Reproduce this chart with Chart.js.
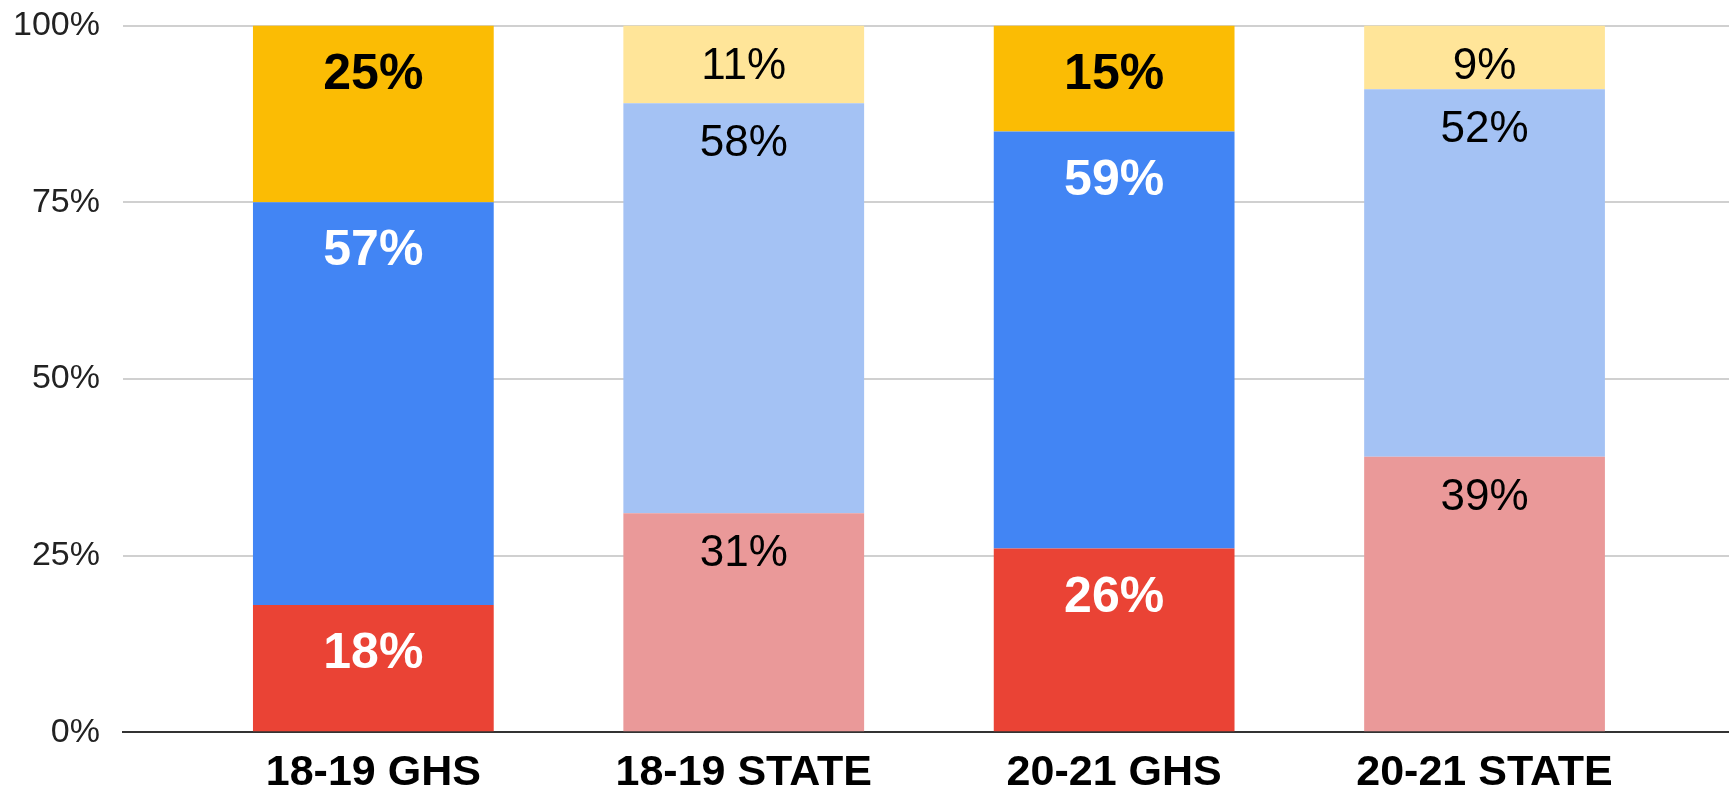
<!DOCTYPE html>
<html>
<head>
<meta charset="utf-8">
<script src="https://cdn.jsdelivr.net/npm/chart.js@4/dist/chart.umd.min.js"></script>
<style>
  html, body { margin: 0; padding: 0; background: #fff; }
  #wrap { width: 1729px; height: 788px; }
</style>
</head>
<body>
<div id="wrap"><canvas id="barChart" width="1729" height="788"></canvas></div>
<script>
// chart values
const categories = ['18-19 GHS', '18-19 STATE', '20-21 GHS', '20-21 STATE'];
const bottomValues = [18, 31, 26, 39];
const middleValues = [57, 58, 59, 52];
const topValues = [25, 11, 15, 9];
const yTicks = [0, 25, 50, 75, 100];

// colours per bar (GHS strong, STATE light)
const bottomColors = ['#ea4335', '#ea9999', '#ea4335', '#ea9999'];
const middleColors = ['#4285f4', '#a4c2f4', '#4285f4', '#a4c2f4'];
const topColors = ['#fbbc04', '#ffe599', '#fbbc04', '#ffe599'];
const bottomText = ['#ffffff', '#000000', '#ffffff', '#000000'];
const middleText = ['#ffffff', '#000000', '#ffffff', '#000000'];
const topText = ['#000000', '#000000', '#000000', '#000000'];
const boldLabel = [true, false, true, false];

const FONT = '"Liberation Sans", Arial, sans-serif';

function points(values) {
    return values.map((v, i) => ({ x: i, y: v }));
}

// percentage labels inside each segment, near its top
const segmentLabels = {
    id: 'segmentLabels',
    afterDatasetsDraw(chart) {
        const ctx = chart.ctx;
        ctx.save();
        ctx.textAlign = 'center';
        ctx.textBaseline = 'alphabetic';
        chart.data.datasets.forEach((ds, di) => {
            const meta = chart.getDatasetMeta(di);
            meta.data.forEach((bar, i) => {
                const bold = boldLabel[i];
                ctx.font = (bold ? 'bold 50px ' : '44px ') + FONT;
                ctx.fillStyle = ds.textColors[i];
                ctx.fillText(ds.data[i].y + '%', bar.x, bar.y + (bold ? 63 : 53));
            });
        });
        ctx.restore();
    }
};

const ctx = document.getElementById('barChart').getContext('2d');
const chart = new Chart(ctx, {
    type: 'bar',
    data: {
        datasets: [
            { label: 'bottom', data: points(bottomValues), backgroundColor: bottomColors, textColors: bottomText },
            { label: 'middle', data: points(middleValues), backgroundColor: middleColors, textColors: middleText },
            { label: 'top', data: points(topValues), backgroundColor: topColors, textColors: topText }
        ]
    },
    options: {
        responsive: false,
        animation: false,
        layout: { padding: { left: -10, right: 0, top: 0, bottom: -25 } },
        categoryPercentage: 1,
        barPercentage: 0.65,
        plugins: {
            legend: { display: false },
            tooltip: { enabled: false }
        },
        scales: {
            x: {
                type: 'linear',
                stacked: true,
                offset: false,
                min: -0.676,
                max: 3.66,
                afterBuildTicks: scale => {
                    scale.ticks = categories.map((c, i) => ({ value: i }));
                },
                grid: { display: false, drawTicks: false },
                border: { display: true, color: '#333333', width: 2 },
                ticks: {
                    autoSkip: false,
                    maxRotation: 0,
                    padding: 21,
                    color: '#000000',
                    font: { family: FONT, size: 43, weight: 'bold', lineHeight: 0.9 },
                    callback: value => categories[value]
                }
            },
            y: {
                stacked: true,
                min: 0,
                max: 100,
                afterBuildTicks: scale => {
                    scale.ticks = yTicks.map(v => ({ value: v }));
                },
                grid: { color: '#d0d0d0', lineWidth: 2, drawTicks: false },
                border: { display: false },
                ticks: {
                    padding: 23,
                    color: '#222222',
                    font: { family: FONT, size: 34, lineHeight: 0.15 },
                    callback: value => value + '%'
                }
            }
        }
    },
    plugins: [segmentLabels]
});
</script>
</body>
</html>
